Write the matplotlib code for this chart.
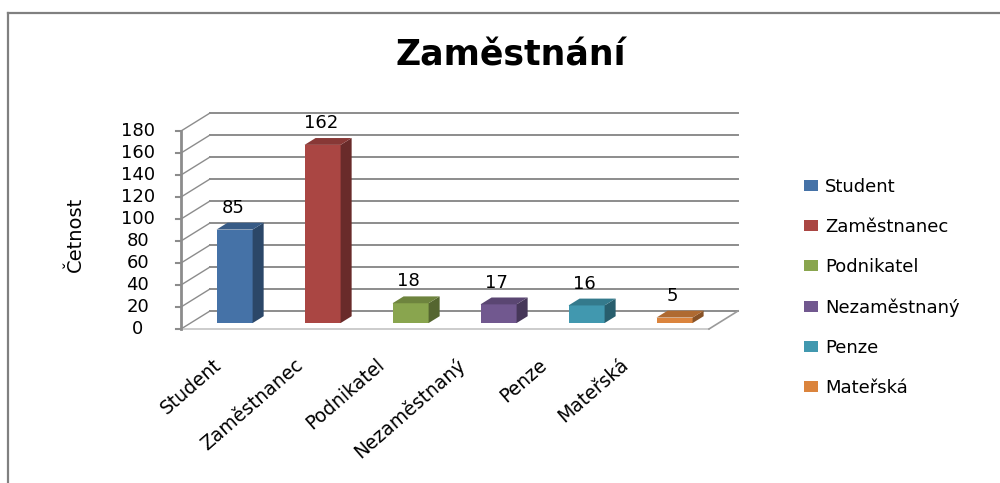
import matplotlib
matplotlib.use('Agg')
import matplotlib.pyplot as plt
from matplotlib.patches import Polygon, Rectangle
from matplotlib.lines import Line2D
from matplotlib.colors import to_rgb

# data
categories = ['Student', 'Zaměstnanec', 'Podnikatel', 'Nezaměstnaný', 'Penze', 'Mateřská']
counts = [85, 162, 18, 17, 16, 5]
colors = ['#4572A7', '#AA4643', '#89A54E', '#71588F', '#4198AF', '#DB843D']
y_ticks = list(range(0, 181, 20))
title = 'Zaměstnání'
y_label = 'Četnost'

plt.rcParams['font.family'] = ['DejaVu Sans']

W, H = 1000, 483
fig = plt.figure(figsize=(W / 100, H / 100), dpi=100)


def px_box(x0, y0, x1, y1):
    # pixel box -> figure fraction rect
    return [x0 / W, 1 - y1 / H, (x1 - x0) / W, (y1 - y0) / H]


def shade(c, k):
    r, g, b = to_rgb(c)
    return (r * k, g * k, b * k)


n = len(categories)
depth_x, depth_y = 0.33, 16.4   # 3d depth offset in data units
ax = fig.add_axes(px_box(181, 113, 738, 329))
ax.set_xlim(-0.5, n - 0.5 + depth_x)
ax.set_ylim(0, max(y_ticks) + depth_y)
ax.axis('off')

grid_c = '#8c8c8c'
x0, x1 = -0.5, n - 0.5
for v in y_ticks:
    # back wall
    ax.plot([x0 + depth_x, x1 + depth_x], [v + depth_y] * 2, color=grid_c, lw=1.4,
            clip_on=False, zorder=1)
    # side wall
    ax.plot([x0, x0 + depth_x], [v, v + depth_y], color=grid_c, lw=1.0,
            clip_on=False, zorder=1)
    # tick
    ax.plot([x0 - 0.06, x0], [v, v], color=grid_c, lw=1.5, clip_on=False)
    ax.text(x0 - 0.49, v, str(v), ha='center', va='center', fontsize=13)

# floor and axis
ax.plot([x0, x1], [0, 0], color='#c4c4c4', lw=1.2, clip_on=False, zorder=1)
ax.plot([x1, x1 + depth_x], [0, depth_y], color='#9a9a9a', lw=1.2, clip_on=False, zorder=1)
ax.plot([x0, x0], [0, max(y_ticks)], color=grid_c, lw=2, clip_on=False, zorder=2)

# bars
f0, f1 = 0.33, 0.71
bw = 0.41
ddx = (f1 - f0) * depth_x
ddy = (f1 - f0) * depth_y
handles = []
for i, (v, c) in enumerate(zip(counts, colors)):
    xl = i - bw / 2 + f0 * depth_x
    xr = xl + bw
    yb = f0 * depth_y
    front = Rectangle((xl, yb), bw, v, facecolor=c, edgecolor='none', zorder=3)
    side = Polygon([(xr, yb), (xr, yb + v), (xr + ddx, yb + v + ddy), (xr + ddx, yb + ddy)],
                   closed=True, facecolor=shade(c, 0.62), edgecolor='none', zorder=3)
    top = Polygon([(xl, yb + v), (xr, yb + v), (xr + ddx, yb + v + ddy), (xl + ddx, yb + v + ddy)],
                  closed=True, facecolor=shade(c, 0.8), edgecolor='none', zorder=3)
    for p in (front, side, top):
        p.set_clip_on(False)
        ax.add_patch(p)
    handles.append(front)
    ax.text(i + f0 * depth_x - 0.02, v + f1 * depth_y + 13.6, str(v),
            ha='center', va='center', fontsize=13)
    ax.text(i * 0.925, -23.6, categories[i], rotation=41, ha='right', va='top',
            fontsize=13.5)

fig.text(75 / W, 1 - 234 / H, y_label, rotation=90, ha='center', va='center', fontsize=14)
fig.text(511 / W, 1 - 65 / H, title, ha='center', va='baseline', fontsize=25,
         fontweight='bold')

fig.legend(handles, categories, loc='upper left', bbox_to_anchor=(804 / W, 1 - 178 / H),
           frameon=False, fontsize=13, labelspacing=1.22, handlelength=0.78,
           handleheight=0.55, handletextpad=0.4, borderpad=0, borderaxespad=0)

# outer frame (only top/left visible)
fig.add_artist(Line2D([8 / W, 1], [1 - 13 / H] * 2, transform=fig.transFigure,
                      color='#808080', lw=1.6))
fig.add_artist(Line2D([8 / W, 8 / W], [0, 1 - 13 / H], transform=fig.transFigure,
                      color='#808080', lw=1.6))

fig.savefig('out.png', dpi=100)
